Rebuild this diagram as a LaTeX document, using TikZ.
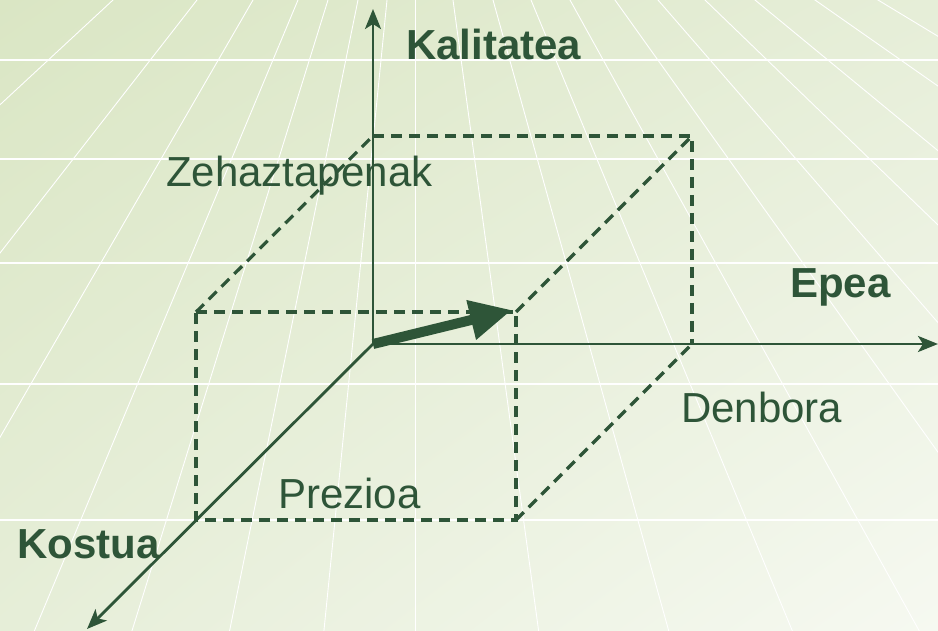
\documentclass[tikz,border=0pt]{standalone}
\usepackage{fontspec}
\setmainfont{Liberation Sans}
\usetikzlibrary{arrows.meta,shadings}
\definecolor{ink}{RGB}{46,85,56}
\definecolor{bgA}{RGB}{218,230,196}
\definecolor{bgM}{RGB}{230,238,216}
\definecolor{bgB}{RGB}{246,249,241}
\begin{document}
\begin{tikzpicture}[x=1pt,y=-1pt,
  axis/.style={draw=ink,line width=2.8pt,-{Stealth[length=20pt,width=16pt,inset=5pt]}},
  dashedge/.style={draw=ink,line width=3.2pt,dash pattern=on 11pt off 7pt},
  gridline/.style={draw=white,line width=0.9pt},
  lbl/.style={text=ink,inner sep=0pt,anchor=base west,font=\fontsize{42}{50}\selectfont},
  blbl/.style={lbl,font=\fontsize{42}{50}\selectfont\bfseries}]
% background
\shade[upper left=bgA,upper right=bgM,lower left=bgM,lower right=bgB] (0,0) rectangle (938,631);
\useasboundingbox (0,0) rectangle (938,631);
\begin{scope}
  \clip (0,0) rectangle (938,631);
  \foreach \t in {113,197,253,298,328,358,387,415,453,493,531,570,615,658,705,755,815,878}
    \draw[gridline] (415,-280) -- ({5*\t-1660},1120);
  \foreach \h in {60,159,263,384,520}
    \draw[gridline,line width=1.5pt] (0,\h) -- (938,\h);
\end{scope}
% coordinates
\coordinate (O) at (373,344);
\coordinate (ytip) at (373,9);
\coordinate (xtip) at (938,344);
\coordinate (ztip) at (87,629);
\coordinate (ftl) at (196,312);
\coordinate (ftr) at (516,312);
\coordinate (fbr) at (516,520);
\coordinate (fbl) at (196,520);
\coordinate (btl) at (373,136);
\coordinate (btr) at (692,136);
\coordinate (bbr) at (692,344);
\coordinate (vtip) at (512,310);
% dashed box
\draw[dashedge] (ftl) -- (ftr) -- (fbr) -- (fbl) -- cycle;
\draw[dashedge] (btl) -- (btr) -- (bbr);
\draw[dashedge] (ftl) -- (btl);
\draw[dashedge] (ftr) -- (btr);
\draw[dashedge] (fbr) -- (bbr);
% axes
\draw[axis] (O) -- (ytip);
\draw[axis] (O) -- (xtip);
\draw[axis] (O) -- (ztip);
% vector
\draw[draw=ink,line width=10pt,-{Triangle[length=42pt,width=38pt]}] (O) -- (vtip);
% labels
\node[blbl] (kal) at (406,60) {Kalitatea};
\node[lbl] (zeh) at (166,187) {Zehaztapenak};
\node[blbl] (epea) at (790,298) {Epea};
\node[lbl] (den) at (681,422) {Denbora};
\node[lbl] (prez) at (278,508) {Prezioa};
\node[blbl] (kos) at (17,558) {Kostua};
\end{tikzpicture}
\end{document}
